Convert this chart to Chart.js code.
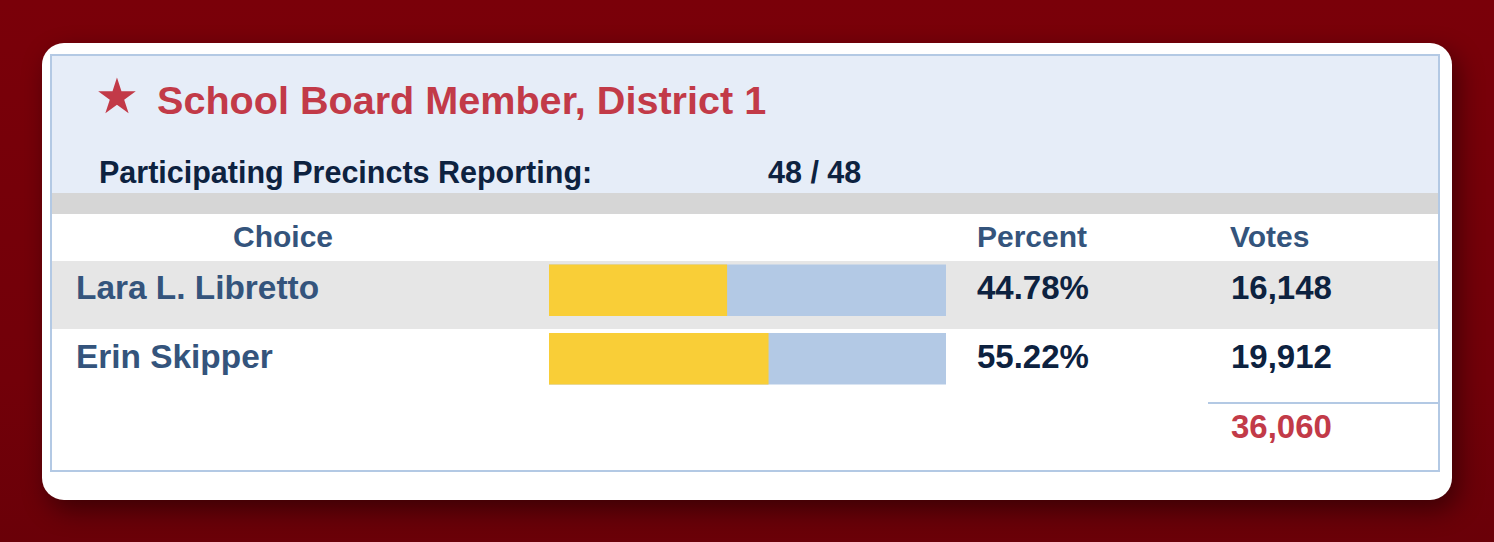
<!DOCTYPE html>
<html>
<head>
<meta charset="utf-8">
<script src="https://cdn.jsdelivr.net/npm/chart.js@4.4.1/dist/chart.umd.min.js"></script>
<style>
  html, body { margin: 0; padding: 0; }
  body {
    width: 1494px; height: 542px; overflow: hidden; position: relative;
    background: linear-gradient(to bottom, #7a0009 0%, #720009 70%, #6a0008 100%);
    font-family: "Liberation Sans", Arial, sans-serif; font-weight: bold;
  }
  .abs { position: absolute; white-space: nowrap; line-height: 1; }
  #card {
    position: absolute; left: 42px; top: 43px; width: 1410px; height: 457px;
    background: #fff; border-radius: 22px;
    box-shadow: 6px 10px 26px rgba(0,0,0,0.45);
  }
  #box {
    position: absolute; left: 50px; top: 54px; width: 1390px; height: 418px;
    border: 2px solid #b3c9e4; box-sizing: border-box;
  }
  .band { position: absolute; left: 52px; width: 1386px; }
  #title { left: 157px; top: 81px; font-size: 39.6px; color: #c23a48; }
  #star { left: 95px; top: 72px; font-size: 49px; color: #c23a48; font-family: "DejaVu Sans", sans-serif; font-weight: normal; }
  .prec { top: 157px; font-size: 30.5px; color: #0d2240; }
  .head { top: 222px; font-size: 30px; color: #34547c; }
  .name { left: 76px; font-size: 33.4px; color: #34547c; }
  .num { font-size: 33px; color: #0d2240; }
  #total { left: 1231px; top: 410px; font-size: 33px; color: #c23a48; }
  #chartWrap { position: absolute; left: 549px; top: 256px; width: 397px; height: 137px; }
</style>
</head>
<body>
<div id="card"></div>
<div id="box"></div>
<div class="band" style="top:56px;height:137px;background:#e6edf8;"></div>
<div class="band" style="top:193px;height:21px;background:#d6d6d6;"></div>
<div class="band" style="top:261px;height:68px;background:#e6e6e6;"></div>
<div style="position:absolute;left:1208px;top:402px;width:230px;height:2px;background:#b3c9e4;"></div>

<div id="star" class="abs">★</div>
<div id="title" class="abs">School Board Member, District 1</div>
<div class="abs prec" style="left:99px;">Participating Precincts Reporting:</div>
<div id="precCount" class="abs prec" style="left:768px;"></div>
<div class="abs head" style="left:233px;">Choice</div>
<div class="abs head" style="left:977px;">Percent</div>
<div class="abs head" style="left:1230px;">Votes</div>
<div id="rows"></div>
<div id="total" class="abs"></div>

<div id="chartWrap"><canvas id="barChart"></canvas></div>

<script>
const candidates = ["Lara L. Libretto", "Erin Skipper"];
const percents = [44.78, 55.22];
const votes = [16148, 19912];
const totalVotes = 36060;
const precinctsReporting = 48;
const precinctsTotal = 48;
const fullScale = [100, 100];

const rowTops = [271, 340];

document.getElementById("precCount").textContent = precinctsReporting + " / " + precinctsTotal;
document.getElementById("total").textContent = totalVotes.toLocaleString("en-US");

let rowsHtml = "";
candidates.forEach((c, i) => {
  rowsHtml += '<div class="abs name" style="top:' + rowTops[i] + 'px;">' + c + '</div>';
  rowsHtml += '<div class="abs num" style="left:977px;top:' + rowTops[i] + 'px;">' + percents[i].toFixed(2) + '%</div>';
  rowsHtml += '<div class="abs num" style="left:1231px;top:' + rowTops[i] + 'px;">' + votes[i].toLocaleString("en-US") + '</div>';
});
document.getElementById("rows").innerHTML = rowsHtml;

const data = {
  labels: candidates,
  datasets: [
    {
      label: "Percent",
      data: percents,
      backgroundColor: "#f9ce37",
      barThickness: 51,
      grouped: false,
      order: 1,
    },
    {
      label: "Track",
      data: fullScale,
      backgroundColor: "#b3c9e5",
      barThickness: 51,
      grouped: false,
      order: 2,
    },
  ],
};

const config = {
  type: "bar",
  data: data,
  options: {
    indexAxis: "y",
    responsive: true,
    maintainAspectRatio: false,
    animation: false,
    layout: { padding: 0 },
    plugins: { legend: { display: false }, tooltip: { enabled: false } },
    scales: {
      x: { min: 0, max: 100, display: false },
      y: { display: false },
    },
  },
};

var ctx = document.getElementById("barChart").getContext("2d");
var chart = new Chart(ctx, config);
</script>
</body>
</html>
